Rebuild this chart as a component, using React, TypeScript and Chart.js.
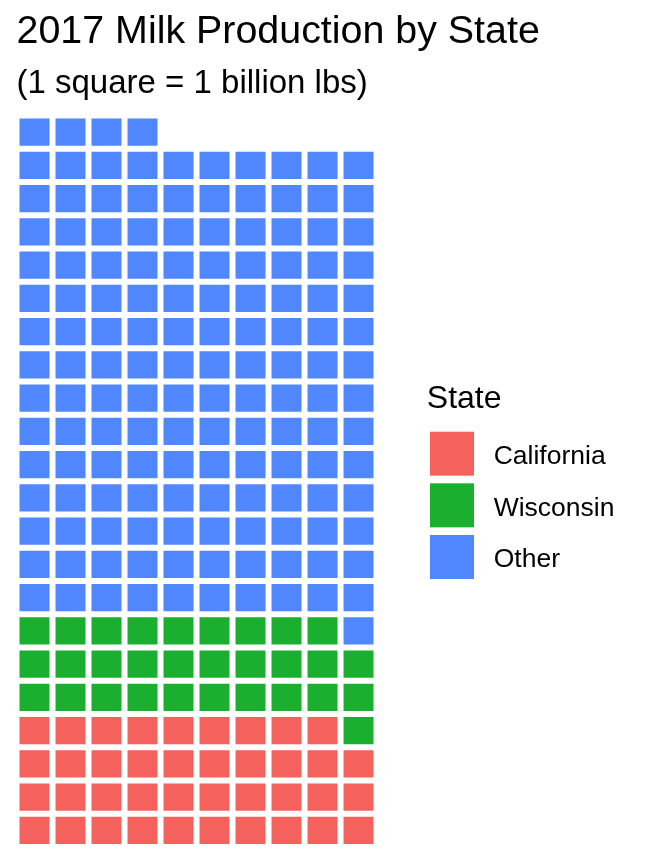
import React, { useEffect, useRef } from "react";
import { Chart, registerables } from "chart.js";

Chart.register(...registerables);

const titleText = "2017 Milk Production by State";
const subtitleText = "(1 square = 1 billion lbs)";
const legendTitle = "State";
const states = ["California", "Wisconsin", "Other"];
const squares = [39, 30, 145];
const stateColors = ["#F5615C", "#1AAF2F", "#5087FF"];
const columnsPerRow = 10;

const FONT = "'Liberation Sans', Arial, Helvetica, sans-serif";

function buildTiles() {
  const datasets: any[] = [];
  let idx = 0;
  states.forEach((s, si) => {
    const pts: any[] = [];
    for (let k = 0; k < squares[si]; k++) {
      const col = (idx % columnsPerRow) + 1;
      const row = Math.floor(idx / columnsPerRow);
      pts.push({ x: col, y: [row, row + 1] });
      idx++;
    }
    datasets.push({
      label: s,
      data: pts,
      backgroundColor: stateColors[si],
      borderColor: "#FFFFFF",
      borderWidth: 3,
      borderSkipped: false,
      inflateAmount: 0,
      grouped: false,
      barThickness: 36,
    });
  });
  return { datasets, rows: Math.ceil(idx / columnsPerRow) };
}

const legendPlugin = {
  id: "waffleLegend",
  afterDraw(chart: any) {
    const ctx = chart.ctx;
    ctx.save();
    ctx.fillStyle = "#000";
    ctx.textAlign = "left";
    ctx.textBaseline = "alphabetic";
    ctx.font = `32px ${FONT}`;
    ctx.fillText(legendTitle, 426.8, 407.7);
    const boxX = 430;
    const boxTop = 431.7;
    const boxSize = 44;
    const pitch = 51.65;
    chart.data.datasets.forEach((ds: any, i: number) => {
      const y = boxTop + i * pitch;
      ctx.fillStyle = ds.backgroundColor;
      ctx.fillRect(boxX, y, boxSize, boxSize);
      ctx.fillStyle = "#000";
      ctx.font = `26.5px ${FONT}`;
      ctx.fillText(ds.label, 493.7, y + 32.3);
    });
    ctx.restore();
  },
};

export default function App() {
  const ref = useRef<HTMLCanvasElement | null>(null);
  useEffect(() => {
    if (!ref.current) return;
    const { datasets, rows } = buildTiles();
    const chart = new Chart(ref.current, {
      type: "bar",
      data: { datasets },
      plugins: [legendPlugin],
      options: {
        responsive: false,
        animation: false,
        events: [],
        layout: { padding: { left: 16.5, right: 0, top: 0, bottom: 17.1 } },
        scales: {
          x: { type: "linear", display: false, offset: false, min: 0.5, max: 18.04, grid: { display: false } },
          y: { type: "linear", display: false, min: 0, max: rows, grid: { display: false } },
        },
        plugins: {
          legend: { display: false },
          tooltip: { enabled: false },
          title: {
            display: true,
            text: titleText,
            align: "start",
            color: "#000",
            font: { family: FONT, size: 39.4, weight: "normal", lineHeight: 1.2 },
            padding: { top: 8.7, bottom: 7.8 },
          },
          subtitle: {
            display: true,
            text: subtitleText,
            align: "start",
            color: "#000",
            font: { family: FONT, size: 33, weight: "normal", lineHeight: 1.2 },
            padding: { top: 0, bottom: 12 },
          },
        },
      } as any,
    });
    return () => chart.destroy();
  }, []);
  return (
    <div style={{ position: "absolute", left: 0, top: 0, width: 648, height: 864, background: "#fff" }}>
      <canvas ref={ref} width={648} height={864} style={{ display: "block" }} />
    </div>
  );
}
